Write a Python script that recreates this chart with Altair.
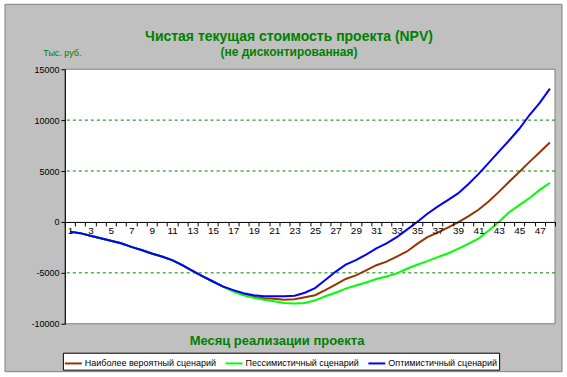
import altair as alt
import pandas as pd

# ---------------- data ----------------
months = list(range(1, 49))

series_names = ["Наиболее вероятный сценарий", "Пессимистичный сценарий", "Оптимистичный сценарий"]
series_colors = ["#993300", "#00FF00", "#0000FF"]

common_start = [-950, -1100, -1350, -1600, -1850, -2100, -2450, -2750, -3100, -3400,
                -3750, -4250, -4800, -5350, -5850, -6350]

likely = common_start + [-6750, -7100, -7350, -7500, -7550, -7650, -7600, -7400, -7200, -6700,
                         -6150, -5600, -5250, -4750, -4250, -3900, -3400, -2900, -2150, -1500,
                         -1050, -550, -50, 550, 1200, 2000, 2950, 3950, 4900, 5900,
                         6850, 7800]
pessim = common_start + [-6850, -7200, -7450, -7650, -7800, -7950, -8000, -7950, -7700, -7300,
                         -6950, -6550, -6250, -5950, -5600, -5350, -5050, -4600, -4200, -3850,
                         -3450, -3100, -2650, -2150, -1650, -850, 0, 950, 1650, 2350,
                         3150, 3850]
optim = common_start + [-6700, -7000, -7200, -7300, -7300, -7300, -7250, -6950, -6500, -5700,
                        -4900, -4200, -3750, -3200, -2600, -2100, -1500, -750, 0, 800,
                        1500, 2150, 2800, 3700, 4700, 5800, 6900, 8000, 9150, 10500,
                        11700, 13100]

y_ticks = [-10000, -5000, 0, 5000, 10000, 15000]
grid_values = [-5000, 5000, 10000]
x_boundaries = [m - 0.5 for m in months] + [48.5]

title_text = "Чистая текущая стоимость проекта (NPV)"
subtitle_text = "(не дисконтированная)"
y_title = "Тыс. руб."
x_title = "Месяц реализации проекта"

# ---------------- layout ----------------
W, H = 491, 255
FONT = "Liberation Sans, Arial, sans-serif"
GREEN = "#008000"

df = pd.DataFrame({
    "month": months * 3,
    "npv": likely + pessim + optim,
    "scenario": [series_names[0]] * 48 + [series_names[1]] * 48 + [series_names[2]] * 48,
})
one = pd.DataFrame({"k": [0]})
grid_df = pd.DataFrame({"g": grid_values})

yscale = alt.Scale(domain=[-10000, 15000], nice=False, zero=False)
xscale = alt.Scale(domain=[0.5, 48.5], nice=False, zero=False)

yaxis = alt.Axis(values=y_ticks, labelExpr="'' + datum.value", grid=False, tickSize=4,
                 tickColor="black", domainColor="black", labelColor="black",
                 labelFontSize=9, labelFont=FONT, labelPadding=2, zindex=1,
                 title=y_title, titleAngle=0, titleX=-3, titleY=-17, titleAlign="center",
                 titleBaseline="middle", titleFontSize=9, titleFontWeight="normal",
                 titleColor=GREEN, titleFont=FONT)

xaxis = alt.Axis(values=x_boundaries,
                 labelExpr="((datum.value + 0.5) % 2 == 1 && datum.value < 48) ? '' + (datum.value + 0.5) : ''",
                 labelOffset=W / 48 / 2, tickSize=4, tickColor="black", domainColor="black",
                 labelColor="black", labelFontSize=10, labelFont=FONT, labelPadding=0,
                 labelAngle=0, labelFlush=False, labelOverlap=False, grid=False,
                 offset=-H * 0.4, zindex=1, orient="bottom",
                 title=x_title, titleX=212, titleY=119, titleAlign="center",
                 titleBaseline="middle", titleFontSize=13, titleFontWeight="bold",
                 titleColor=GREEN, titleFont=FONT)

legend = alt.Legend(title=None, orient="none", legendX=-2, legendY=284, direction="horizontal",
                    columns=3, symbolType="stroke", symbolSize=289, symbolStrokeWidth=2,
                    labelFontSize=9, labelFont=FONT, labelColor="black", labelOffset=2,
                    strokeColor="black", fillColor="white", padding=1, columnPadding=5,
                    labelLimit=300)

frame = alt.Chart(one).mark_rect(fill="#C0C0C0", stroke="#808080", strokeWidth=1).encode(
    x=alt.value(-60), x2=alt.value(W + 7), y=alt.value(-65), y2=alt.value(H + 48))

plot_bg = alt.Chart(one).mark_rect(fill="white", stroke="#808080", strokeWidth=1).encode(
    x=alt.value(0), x2=alt.value(W), y=alt.value(0), y2=alt.value(H))

grid = alt.Chart(grid_df).mark_rule(color=GREEN, strokeDash=[3, 3], strokeWidth=1).encode(
    y=alt.Y("g:Q", scale=yscale, axis=yaxis))

lines = alt.Chart(df).mark_line(strokeWidth=2, clip=False).encode(
    x=alt.X("month:Q", scale=xscale, axis=xaxis),
    y=alt.Y("npv:Q", scale=yscale, axis=yaxis),
    color=alt.Color("scenario:N", scale=alt.Scale(domain=series_names, range=series_colors),
                    legend=legend),
)

chart = alt.layer(frame, plot_bg, grid, lines).properties(
    width=W, height=H, padding={"top": 3, "left": 4, "right": 4, "bottom": 4},
    background="white",
    title=alt.TitleParams(text=title_text, subtitle=subtitle_text, fontSize=14,
                          subtitleFontSize=12, fontWeight="bold", subtitleFontWeight="bold",
                          color=GREEN, subtitleColor=GREEN, font=FONT, subtitleFont=FONT,
                          anchor="middle", frame="group", dx=-21, offset=-54,
                          subtitlePadding=3),
).configure_view(strokeWidth=0).configure_legend(strokeWidth=1)

chart.save("out.html", embed_options={"renderer": "svg", "actions": False})
